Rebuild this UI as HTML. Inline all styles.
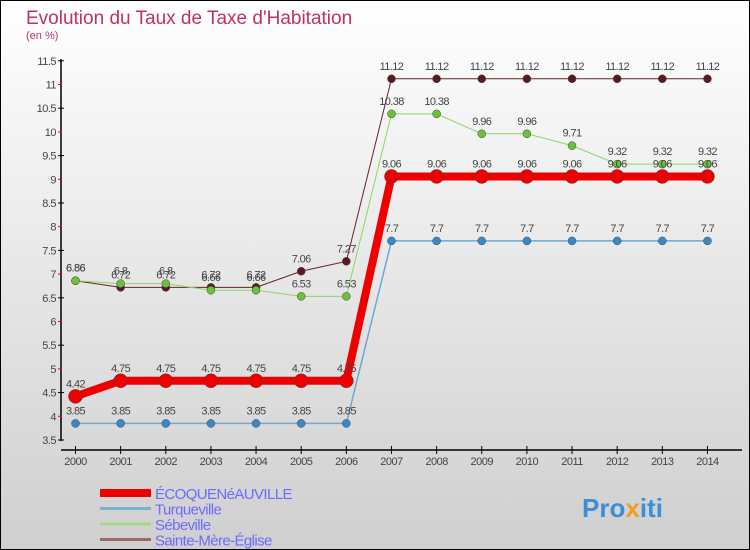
<!DOCTYPE html>
<html><head><meta charset="utf-8"><style>
html,body{margin:0;padding:0}
body{width:750px;height:550px;overflow:hidden;font-family:"Liberation Sans",sans-serif}
svg{display:block}
</style></head><body>
<svg width="750" height="550" xmlns="http://www.w3.org/2000/svg">
<defs><linearGradient id="bg" x1="0" y1="0" x2="0" y2="1"><stop offset="0" stop-color="#ffffff"/><stop offset="1" stop-color="#cfcfcf"/></linearGradient></defs>
<rect x="0.5" y="0.5" width="749" height="549" fill="url(#bg)" stroke="#000"/>
<text x="26" y="24" font-size="19" fill="#c0325f">Evolution du Taux de Taxe d'Habitation</text>
<text x="26" y="39" font-size="11" fill="#c0325f">(en %)</text>
<g id="axes"></g><g id="series"></g><g id="legend"></g>
<text x="582" y="517" font-size="26" font-weight="bold" fill="#3a8fd8">Pro<tspan fill="#f0a020">x</tspan>iti</text>
</svg>
<script>
const years=[2000,2001,2002,2003,2004,2005,2006,2007,2008,2009,2010,2011,2012,2013,2014];
const yTicks=[3.5,4,4.5,5,5.5,6,6.5,7,7.5,8,8.5,9,9.5,10,10.5,11,11.5];
const seriesNames=["ÉCOQUENéAUVILLE","Turqueville","Sébeville","Sainte-Mère-Église"];
const ecoq=[4.42,4.75,4.75,4.75,4.75,4.75,4.75,9.06,9.06,9.06,9.06,9.06,9.06,9.06,9.06];
const turq=[3.85,3.85,3.85,3.85,3.85,3.85,3.85,7.7,7.7,7.7,7.7,7.7,7.7,7.7,7.7];
const sebe=[6.86,6.8,6.8,6.66,6.66,6.53,6.53,10.38,10.38,9.96,9.96,9.71,9.32,9.32,9.32];
const sme=[6.86,6.72,6.72,6.72,6.72,7.06,7.27,11.12,11.12,11.12,11.12,11.12,11.12,11.12,11.12];
const NS="http://www.w3.org/2000/svg";
const X=y=>75.5+(y-2000)*45.14;
const Y=v=>440-(v-3.5)*47.4;
function mk(tag,attrs,parent){const e=document.createElementNS(NS,tag);for(const k in attrs)e.setAttribute(k,attrs[k]);parent.appendChild(e);return e;}
const ax=document.getElementById('axes');
let l=mk('line',{x1:61,y1:59,x2:61,y2:441,stroke:'#000','stroke-width':1.5},ax);


l=mk('line',{x1:61,y1:450,x2:742,y2:450,stroke:'#000','stroke-width':1.5},ax);


yTicks.forEach((v,i)=>{
  const y=Y(v);
  mk('line',{x1:i%2?58:58,x2:i%2?62:64,y1:y,y2:y,stroke:i%2?'#e00':'#000','stroke-width':1},ax);
  const t=mk('text',{x:56,y:y+4,'font-size':11,fill:'#444','text-anchor':'end','letter-spacing':'-0.5'},ax);
  t.textContent=v;
  
  
});
years.forEach(yr=>{
  const x=X(yr);
  mk('line',{x1:x,x2:x,y1:446,y2:454,stroke:'#000'},ax);
  const t=mk('text',{x:x,y:465,'font-size':11,fill:'#444','text-anchor':'middle','letter-spacing':'-0.5'},ax);
  t.textContent=yr;
  
  
});
const sg=document.getElementById('series');
const defs=[[sme,'#6b1f24','#5a1a1f',1,4],[sebe,'#8fd46a','#6cc13a',1,4],[turq,'#6fa8d0','#3a88c8',1.5,4],[ecoq,'#ee0000','#ee0000',8,7]];
const names=['sainte-mere-eglise','sebeville','turqueville','ecoquenauville'];
defs.forEach((d,si)=>{
  const [vals,lc,pc,w,r]=d;
  const g=mk('g',{},sg);
  
  
  const p=mk('polyline',{points:vals.map((v,i)=>X(years[i])+','+Y(v)).join(' '),fill:'none',stroke:lc,'stroke-width':w},g);
  
  
  vals.forEach((v,i)=>{
    const c=mk('circle',{cx:X(years[i]),cy:Y(v),r:r,fill:pc,stroke:'#444','stroke-width':0.5},g);
    
    
    const t=mk('text',{x:X(years[i]),y:Y(v)-9,'font-size':11,fill:'#444','text-anchor':'middle','letter-spacing':'-0.6'},g);
    t.textContent=String(v);
    
    
  });
});
const lg=document.getElementById('legend');
const lcols=['#ee0000','#7ab0d4','#a4d88a','#9a6a6a'];
const lw=[8,3,3,3];
seriesNames.forEach((n,i)=>{
  const y=493+i*15.5;
  const ln=mk('line',{x1:100,x2:151,y1:y,y2:y,stroke:lcols[i],'stroke-width':lw[i]},lg);
  
  
  const t=mk('text',{x:155,y:y+6,'font-size':15,fill:'#6b6bff','letter-spacing':'-0.6'},lg);
  t.textContent=n;
  
  
});
</script>
</body></html>
